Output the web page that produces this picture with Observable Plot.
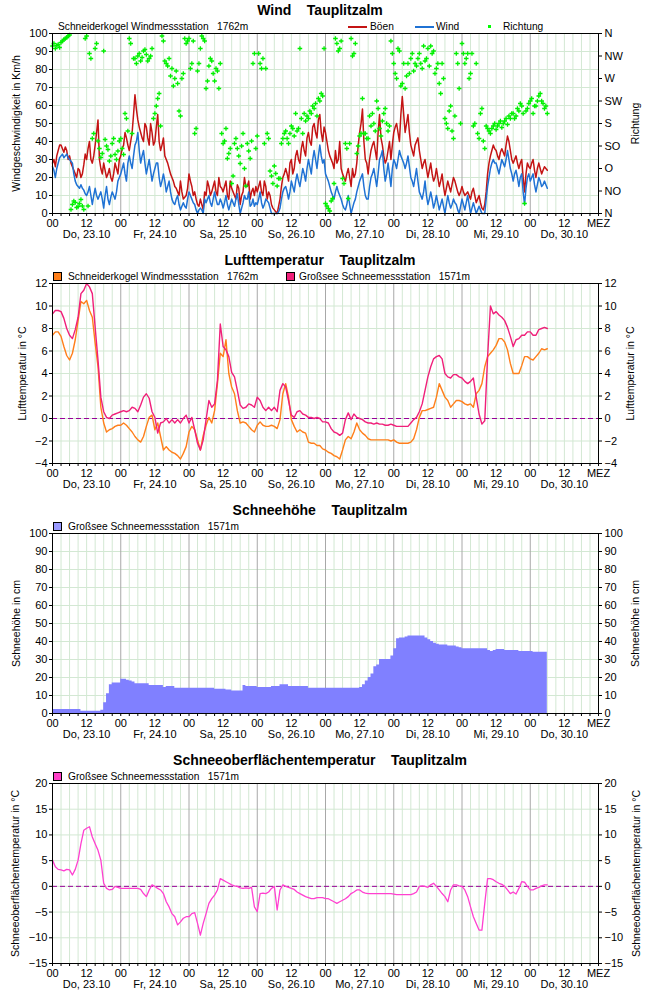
<!DOCTYPE html>
<html><head><meta charset="utf-8">
<script src="https://cdn.jsdelivr.net/npm/d3@7"></script>
<script src="https://cdn.jsdelivr.net/npm/@observablehq/plot@0.6"></script>
<style>
body{margin:0;background:#fff;font-family:"Liberation Sans",Arial,sans-serif;color:#000}
.panel{position:relative;width:650px;height:250px;overflow:hidden}
.panel svg{position:absolute;left:0;top:0}
.title{position:absolute;top:1px;left:0;width:640px;text-align:center;font-weight:bold;font-size:14px;white-space:pre;line-height:18px}
.leg{position:absolute;top:20px;font-size:10.2px;white-space:pre;line-height:13px}
.sq{position:absolute;top:22px;width:7px;height:7px;border:1px solid #000}
.ln{position:absolute;top:26px;width:19px;height:2px}
.dt{position:absolute;top:25px;width:3px;height:3px;background:#00ff00}
</style>
</head><body>
<div id="root"></div>
<script>
// ---------- data (hourly from Do 23.10 00:00 MEZ, plus half-hour values for wind) ----------
const START = "2025-10-23T00:00Z";
const END = "2025-10-31T00:00Z";
const STEP_HOURS = 1;

const DAY_LABELS = ["Do, 23.10","Fr, 24.10","Sa, 25.10","So, 26.10","Mo, 27.10","Di, 28.10","Mi, 29.10","Do, 30.10"];
const COMPASS = ["N","NO","O","SO","S","SW","W","NW","N"];

const gust = [28,26,35,38,34,35,32,26,22,25,20,27,30,40,28,38,52,25,28,20,25,18,28,22,
32,38,42,35,45,66,52,45,40,48,38,45,40,55,35,42,30,25,20,15,12,18,8,10,
22,15,12,5,8,2,10,15,12,18,10,15,12,18,8,14,10,16,5,12,15,18,12,10,
12,18,10,15,12,5,2,0,8,20,25,18,30,25,35,28,40,32,45,38,50,42,55,40,
45,35,30,25,28,40,22,18,25,15,20,28,45,58,30,22,35,40,30,55,38,28,35,30,
45,50,40,65,45,55,38,32,40,35,25,30,20,28,18,25,15,22,10,18,12,20,15,10,
15,10,12,8,14,6,10,3,5,22,32,38,35,30,36,32,43,35,28,32,25,30,12,28,
25,30,20,28,22,26,24];
const gustHalf = [30,32,38,36,37,30,28,24,20,24,22,33,36,30,32,45,30,22,24,22,20,22,25,30,
36,45,38,40,55,58,48,42,50,42,50,38,48,40,38,32,28,22,18,14,10,12,9,14,
18,10,8,4,5,12,18,10,15,12,20,14,15,10,18,12,8,14,10,20,15,8,14,15,
15,12,18,8,10,3,1,4,15,22,22,28,22,32,30,36,35,42,40,48,45,52,45,48,
40,32,28,35,30,25,20,22,20,25,22,38,50,40,28,30,38,35,45,42,32,30,40,38,
48,45,55,55,50,45,35,38,42,30,28,25,24,22,20,20,18,15,14,15,16,18,12,12,
12,11,10,12,10,8,6,2,12,28,35,36,32,34,34,38,40,30,30,28,28,20,22,26,
28,24,25,25,24,25];

const wind = [26,20,28,32,31,33,30,28,18,15,16,13,10,15,5,14,8,12,3,15,5,12,8,18,
22,28,18,32,25,38,45,28,35,22,30,18,25,28,15,22,12,18,8,5,10,2,6,3,
12,8,5,0,3,0,6,10,4,12,5,8,3,10,2,8,4,11,0,6,8,12,5,4,
5,12,3,8,6,0,0,0,3,12,15,8,18,12,22,15,25,18,30,22,35,25,38,28,
22,18,12,8,15,10,5,2,10,0,6,12,18,22,10,8,20,25,15,30,35,18,28,15,
30,25,35,30,25,32,20,15,25,12,8,18,5,12,3,10,2,8,0,10,3,8,5,0,
8,2,10,0,6,0,4,0,0,15,25,30,28,22,30,26,35,25,18,24,15,22,5,20,
18,22,12,20,15,18,14];
const windHalf = [24,25,31,33,32,31,29,22,16,14,14,11,12,10,10,10,10,8,10,8,9,10,12,20,
25,22,28,28,32,40,35,32,28,26,24,22,28,20,18,18,15,12,6,8,5,4,4,8,
10,6,2,2,2,8,8,6,8,8,5,6,6,5,5,6,8,5,3,10,8,4,8,6,
8,6,5,7,3,0,0,1,8,14,12,12,15,18,18,20,22,25,26,30,30,32,32,30,
20,15,10,12,12,8,3,5,5,3,8,15,20,15,8,15,22,20,22,32,25,22,22,25,
28,30,32,28,28,26,18,20,18,10,12,10,8,8,6,6,5,4,5,6,5,6,2,4,
5,6,5,3,3,2,2,0,8,20,28,28,25,26,28,30,30,22,22,20,20,12,14,22,
20,16,16,18,16,16];

// direction in degrees, on the full hour and at half past
const dirFull = [335,330,338,342,348,352,357,18,22,14,28,8,355,320,150,330,145,112,325,135,105,140,118,125,
150,118,190,350,160,310,315,305,325,318,310,330,200,230,175,345,300,310,290,270,260,195,280,340,
350,300,160,285,330,350,250,295,305,265,285,300,140,170,120,60,140,130,100,160,55,125,145,320,
155,300,310,290,150,75,95,55,70,150,165,140,175,155,165,330,160,185,190,200,210,195,225,235,
20,10,25,60,340,330,70,140,30,350,320,120,155,230,160,150,175,180,225,170,185,210,165,345,
300,270,325,260,250,300,310,285,295,320,290,305,330,335,325,290,260,300,190,170,215,150,320,250,
340,300,320,280,175,300,150,210,130,170,160,175,168,180,172,185,178,190,200,195,205,215,20,210,
225,200,215,235,225,210,200];
const dirHalf = [340,336,332,345,350,355,8,25,12,20,15,350,15,310,160,340,130,120,148,128,115,150,108,145,
130,200,165,340,310,300,320,312,328,305,315,190,215,240,355,305,295,275,255,285,205,270,350,345,
290,345,170,300,355,345,265,310,280,290,250,160,145,110,130,75,150,115,135,90,140,110,300,130,
320,290,140,160,85,60,80,70,140,160,150,160,170,200,170,190,200,195,205,215,220,230,240,330,
15,5,30,350,325,345,60,130,140,315,340,135,160,160,150,195,200,165,210,155,200,180,175,320,
280,330,255,300,275,280,320,300,310,300,335,310,295,320,280,300,240,270,180,205,165,195,300,180,
320,310,270,320,180,160,200,145,175,165,170,180,175,185,180,190,195,200,190,210,220,200,205,220,
230,215,225,240,220,215];

const tempSchneiderkogel = [7.4,7.7,7.7,7.3,6.4,5.6,5.2,5.8,7.0,8.7,10.4,10.2,10.5,9.6,9.0,6.7,4.6,1.0,-0.4,-1.2,-1.0,-0.9,-0.7,-0.6,
-0.6,-0.4,-0.6,-0.9,-1.2,-1.6,-1.9,-2.1,-1.6,-0.7,0.1,0.3,-1.0,-0.4,-1.6,-2.8,-2.5,-2.8,-3.0,-3.1,-3.3,-3.6,-3.1,-2.5,
-1.2,-0.7,-1.0,-1.9,-2.8,-1.5,-0.6,0.1,-0.4,0.7,3.1,5.8,5.5,7.0,4.0,2.8,2.2,0.7,-0.4,-0.3,-0.4,-0.7,-1.0,-1.2,
-0.6,-0.3,-0.6,-0.7,-0.7,-0.6,-0.7,-0.9,-0.1,2.2,3.1,1.9,-0.1,-0.7,-1.2,-1.0,-1.2,-1.3,-2.1,-2.2,-2.2,-2.4,-2.4,-2.7,
-2.8,-3.0,-3.1,-3.3,-3.4,-3.6,-2.8,-1.9,-1.6,-1.8,-1.2,-0.4,-1.0,-1.3,-1.5,-1.8,-1.9,-1.9,-1.9,-1.9,-1.9,-1.9,-1.9,-2.0,
-1.9,-2.1,-2.2,-2.2,-2.2,-2.2,-2.1,-1.8,-1.0,0.1,0.7,0.7,0.8,0.9,1.0,1.9,3.1,2.5,1.9,1.6,1.0,1.3,1.6,1.6,
1.5,1.3,1.2,1.3,1.0,2.2,2.5,3.1,4.6,5.5,5.8,6.1,6.5,7.1,7.1,6.8,6.1,4.9,4.0,4.0,4.0,4.7,5.5,5.5,
5.3,5.2,5.5,5.8,6.2,6.1,6.2];

const tempGrossee = [9.3,9.6,9.6,9.5,8.9,8.0,7.4,7.1,7.9,9.0,11.1,11.4,12.0,11.7,11.1,8.1,5.2,1.9,0.6,0.1,0.0,0.3,0.4,0.5,
0.6,0.7,0.6,0.7,1.0,0.9,0.6,1.2,1.9,2.2,1.8,0.6,0.1,-1.3,-0.4,-0.3,0.0,-0.4,-0.1,-0.4,-0.1,-0.4,0.0,0.3,
-0.4,0.1,-1.0,-2.2,-2.8,-1.9,-0.1,1.6,1.0,1.3,3.4,8.4,6.4,6.1,5.5,4.1,3.7,2.5,1.2,0.9,1.0,1.3,1.2,1.0,
1.9,1.6,1.0,0.7,1.0,0.7,1.0,0.6,2.5,3.1,2.8,1.6,0.3,0.1,0.6,0.7,0.4,0.3,0.1,0.1,0.0,0.1,0.0,-0.3,
-0.3,-0.4,-0.9,-1.2,-1.3,-1.5,-1.3,-0.1,0.5,-0.1,0.4,0.1,0.0,-0.1,-0.3,-0.4,-0.4,-0.5,-0.4,-0.5,-0.5,-0.6,-0.6,-0.5,
-0.6,-0.7,-0.7,-0.7,-0.7,-0.7,-0.4,-0.1,0.1,0.6,1.3,2.5,3.7,4.6,5.3,5.5,5.6,5.3,4.0,3.7,3.6,3.9,3.9,3.7,
3.6,3.3,3.1,3.3,3.6,1.9,0.4,-0.5,-0.2,5.5,10.0,9.3,9.5,9.2,9.0,8.7,8.1,7.3,6.4,7.0,7.1,7.4,7.4,7.7,
7.7,7.4,7.4,7.9,8.0,8.1,8.0];

const snowDepth = [2.2,2.2,2.2,2.2,2.2,2.2,2.2,2.2,2.2,2.2,1.3,1.3,1.3,1.3,1.3,1.3,1.3,1.8,6,11,16,17,17,17,
19,19,18.5,18,17.5,16.5,16.5,16.5,16.5,16.5,15.5,15.5,15.5,15.5,15.5,14.5,15,15,15,14,14,14,14,14,
14,14,14,14,14,14,14,14,14,13.5,13.5,13.5,13.5,13,13,12.5,12.5,12.5,12.5,15.5,15,15,15,15,
14.5,14.5,14.5,14.5,14.5,15,15,15,16,16,16,15,15,15,15,15,15,15,14,14,14,14,14,14,
14,14,14,14,14,14,14,14,14,14,14,14,14.5,16,18,20,22,26,27,30,30,30,30,32,
36,41.5,42,42,42.5,43,43,43,43,43,43,42,41,40,39,38.5,38,38,38,37.5,37.5,37.5,37,36.5,
36,36,36,36,36,36,36,36,36,35,34.5,35,35.5,35.5,35.5,35,35,35,35,35,34.5,34.5,34.5,34.5,
34.5,34,34,34,34,34,34];

const snowSurfaceTemp = [5.1,3.8,3.3,3.2,3.0,3.3,3.2,2.2,3.3,5.1,8.3,10.9,11.3,11.6,9.6,8.3,7.0,5.1,0.6,-0.4,-0.7,-0.6,0.0,-0.2,
-0.4,-0.4,-0.4,-0.4,-0.4,-0.4,-0.4,-0.6,-1.4,-2.0,-0.7,0.3,0.0,-0.4,-0.7,-1.4,-3.0,-4.0,-5.3,-5.9,-7.5,-6.9,-6.2,-5.9,
-5.9,-5.3,-5.1,-7.2,-9.5,-7.2,-5.3,-3.3,-2.4,-1.7,-0.7,1.5,1.2,0.9,0.6,0.3,0.1,0.0,-0.3,-0.4,-0.3,-0.4,-0.2,-4.0,
-4.9,-1.4,-1.3,-1.4,-1.1,-0.4,0.0,-4.6,-0.7,0.3,0.0,-0.2,-0.4,-0.6,-1.1,-1.4,-1.7,-2.0,-2.2,-2.4,-2.4,-2.2,-2.2,-2.2,
-2.4,-2.4,-2.7,-3.0,-3.3,-3.0,-2.7,-2.4,-2.0,-1.4,-1.1,-0.7,-0.7,-1.1,-1.3,-1.4,-1.4,-1.4,-1.4,-1.4,-1.4,-1.4,-1.4,-1.4,
-1.5,-1.6,-1.6,-1.6,-1.6,-1.6,-1.6,-1.4,-1.1,0.0,0.1,0.0,-0.2,0.3,0.6,0.0,-0.7,-1.4,-2.0,-3.0,-0.7,0.3,0.3,0.1,
0.0,-0.7,-2.0,-4.0,-5.9,-7.2,-8.5,-8.5,-3.3,1.5,1.5,1.3,0.9,0.6,0.4,0.0,-0.7,-1.4,-1.1,-1.5,-0.4,0.9,0.8,0.0,
-0.7,-0.7,-0.4,-0.2,0.1,0.3,0.3];

const windTicks = [0,10,20,30,40,50,60,70,80,90,100];
const dirTicks = [0,45,90,135,180,225,270,315,360];
const tempTicks = [-4,-2,0,2,4,6,8,10,12];
const snowTicks = [0,10,20,30,40,50,60,70,80,90,100];
const surfTicks = [-15,-10,-5,0,5,10,15,20];

// ---------- helpers ----------
const FONT = '"Liberation Sans", Arial, Helvetica, sans-serif';
const GRID = "#d3e8d3";
const start = new Date(START), end = new Date(END);
const timeAt = i => d3.utcHour.offset(start, i * STEP_HOURS);
const halfAt = i => d3.utcMinute.offset(timeAt(i), 30);
const series = arr => arr.map((v, i) => ({t: timeAt(i), v}));
const series2 = (full, half) => d3.sort([
  ...full.map((v, i) => ({t: timeAt(i), v})),
  ...half.map((v, i) => ({t: halfAt(i), v}))
], d => d.t);
const ticks3 = d3.utcHour.every(3).range(start, d3.utcHour.offset(end, 1));
const midnights = d3.utcDay.range(start, d3.utcHour.offset(end, 1));
const noons = d3.utcDay.range(start, end).map(d => d3.utcHour.offset(d, 12));
const hourLabel = d => +d === +end ? "MEZ" : d.getUTCHours() === 0 ? "00" : d.getUTCHours() === 12 ? "12" : "";

function chart({yDomain, yTicks, rightTicks, rightFormat, marks, leftLabel, rightLabel, leftX, rightX}) {
  return Plot.plot({
    width: 650, height: 250,
    marginTop: 33, marginBottom: 37, marginLeft: 52, marginRight: 52,
    style: {fontFamily: FONT, fontSize: "11px", background: "white", color: "black"},
    x: {type: "utc", domain: [start, end]},
    y: {domain: yDomain},
    marks: [
      Plot.ruleY(yTicks, {stroke: GRID}),
      Plot.ruleX(ticks3.filter(d => d.getUTCHours() !== 0), {stroke: GRID}),
      Plot.ruleX(midnights, {stroke: "#a8a8a8"}),
      ...marks,
      Plot.frame({stroke: "black"}),
      Plot.axisX({ticks: ticks3, tickFormat: hourLabel, tickSize: 3, tickPadding: 3, label: null}),
      Plot.text(noons, {x: d => d, text: (d, i) => DAY_LABELS[i], frameAnchor: "bottom", dy: 24}),
      Plot.axisY({anchor: "left", ticks: yTicks, tickSize: 3, tickPadding: 2, label: null}),
      Plot.axisY({anchor: "right", ticks: rightTicks || yTicks, tickFormat: rightFormat, tickSize: 3, tickPadding: 3, label: null}),
      Plot.text([leftLabel], {frameAnchor: "left", textAnchor: "middle", dx: leftX - 52, rotate: -90, fontSize: 10.5, text: d => d}),
      Plot.text([rightLabel], {frameAnchor: "right", textAnchor: "middle", dx: rightX - 598, rotate: -90, fontSize: 10.5, text: d => d})
    ]
  });
}

function panel(title, svg, legendHTML) {
  const div = document.createElement("div");
  div.className = "panel";
  div.appendChild(svg);
  div.insertAdjacentHTML("beforeend", `<div class="title">${title}</div>` + legendHTML);
  document.getElementById("root").appendChild(div);
}

// ---------- Panel 1: Wind ----------
const dirData = series2(dirFull, dirHalf);
panel("Wind    Tauplitzalm", chart({
  yDomain: [0, 100], yTicks: windTicks,
  rightTicks: dirTicks.map(d => d * 100 / 360),
  rightFormat: d => COMPASS[Math.round(d / 12.5)],
  leftLabel: "Windgeschwindigkeit in Km/h", rightLabel: "Richtung", leftX: 16, rightX: 635,
  marks: [
    Plot.line(series2(gust, gustHalf), {x: "t", y: "v", stroke: "#c41414", strokeWidth: 1.5}),
    Plot.line(series2(wind, windHalf), {x: "t", y: "v", stroke: "#1f72d4", strokeWidth: 1.5}),
    Plot.dot(dirData, {x: "t", y: d => d.v * 100 / 360, symbol: "plus", r: 1.6, stroke: "#00f000", strokeWidth: 1.3})
  ]
}),
`<div class="leg" style="left:58px">Schneiderkogel Windmessstation   1762m</div>
 <div class="ln" style="left:348px;background:#c41414"></div><div class="leg" style="left:370px">Böen</div>
 <div class="ln" style="left:415px;background:#1f72d4"></div><div class="leg" style="left:436px">Wind</div>
 <div class="dt" style="left:488px"></div><div class="leg" style="left:503px">Richtung</div>`);

// ---------- Panel 2: Lufttemperatur ----------
panel("Lufttemperatur    Tauplitzalm", chart({
  yDomain: [-4, 12], yTicks: tempTicks,
  leftLabel: "Lufttemperatur in °C", rightLabel: "Lufttemperatur in °C", leftX: 22, rightX: 630,
  marks: [
    Plot.ruleY([0], {stroke: "#990099", strokeDasharray: "5,3"}),
    Plot.line(series(tempSchneiderkogel), {x: "t", y: "v", stroke: "#ff7f1a", strokeWidth: 1.4}),
    Plot.line(series(tempGrossee), {x: "t", y: "v", stroke: "#f0207a", strokeWidth: 1.4})
  ]
}),
`<div class="sq" style="left:53px;background:#ff7f1a"></div><div class="leg" style="left:68px">Schneiderkogel Windmessstation   1762m</div>
 <div class="sq" style="left:286px;background:#f0207a"></div><div class="leg" style="left:299px">Großsee Schneemessstation   1571m</div>`);

// ---------- Panel 3: Schneehöhe ----------
panel("Schneehöhe    Tauplitzalm", chart({
  yDomain: [0, 100], yTicks: snowTicks,
  leftLabel: "Schneehöhe in cm", rightLabel: "Schneehöhe in cm", leftX: 16, rightX: 635,
  marks: [
    Plot.areaY(series(snowDepth), {x: "t", y: "v", fill: "#8080ff", curve: "step-after"})
  ]
}),
`<div class="sq" style="left:53px;background:#9a9aff"></div><div class="leg" style="left:68px">Großsee Schneemessstation   1571m</div>`);

// ---------- Panel 4: Schneeoberflächentemperatur ----------
panel("Schneeoberflächentemperatur    Tauplitzalm", chart({
  yDomain: [-15, 20], yTicks: surfTicks,
  leftLabel: "Schneeoberflächentemperatur in °C", rightLabel: "Schneeoberflächentemperatur in °C", leftX: 15, rightX: 636,
  marks: [
    Plot.ruleY([0], {stroke: "#990099", strokeDasharray: "5,3"}),
    Plot.line(series(snowSurfaceTemp), {x: "t", y: "v", stroke: "#ff40d0", strokeWidth: 1.3})
  ]
}),
`<div class="sq" style="left:53px;background:#ff40c8"></div><div class="leg" style="left:68px">Großsee Schneemessstation   1571m</div>`);
</script>
</body></html>
